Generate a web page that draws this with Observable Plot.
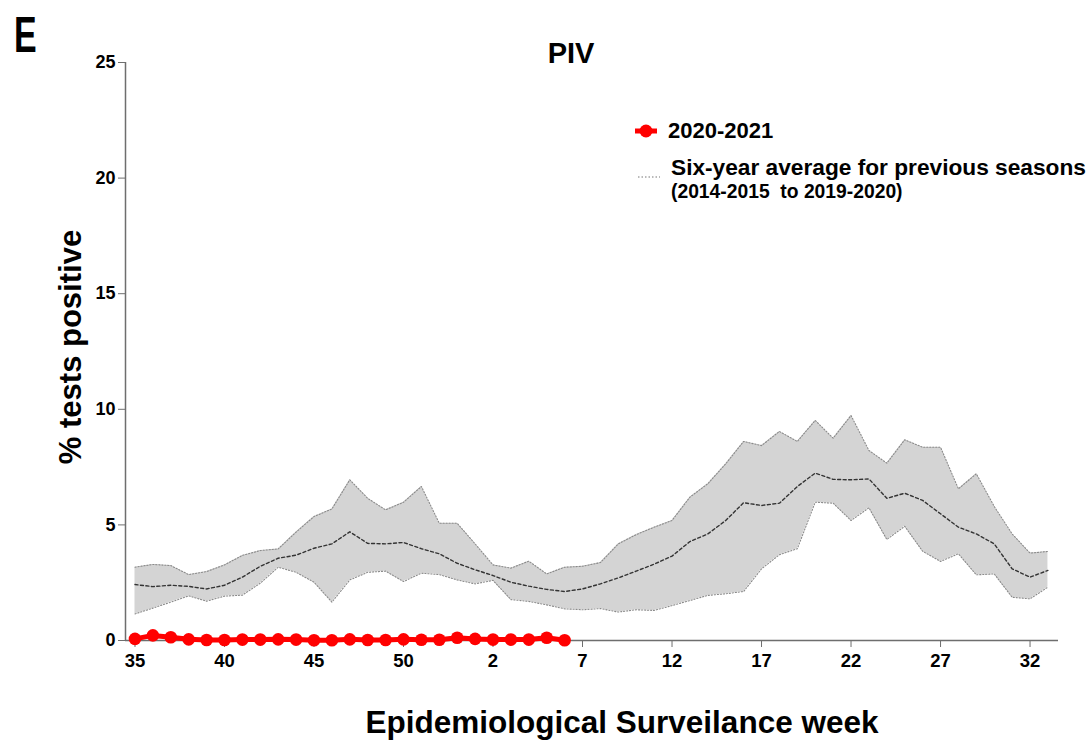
<!DOCTYPE html>
<html>
<head>
<meta charset="utf-8">
<script src="https://cdn.jsdelivr.net/npm/d3@7"></script>
<script src="https://cdn.jsdelivr.net/npm/@observablehq/plot@0.6"></script>
<style>
  html, body { margin: 0; padding: 0; background: #fff; }
  body { font-family: "Liberation Sans", Arial, sans-serif; }
  #wrap { position: relative; width: 1092px; height: 743px; overflow: hidden; }
  #wrap svg { position: absolute; left: 0; top: 0; }
  .lbl { position: absolute; font-weight: bold; color: #000; white-space: nowrap; line-height: 1; }
</style>
</head>
<body>
<div id="wrap">
  <div class="lbl" id="panel" style="left:14px; top:10px; font-size:50px; transform:scaleX(0.68); transform-origin:left top;">E</div>
  <div class="lbl" style="left:571px; top:39px; font-size:29px; transform:translateX(-50%);">PIV</div>
  <div class="lbl" style="left:70px; top:347px; font-size:31px; transform:translate(-50%,-50%) rotate(-90deg);">% tests positive</div>
  <div class="lbl" style="left:622px; top:723px; font-size:31.5px; transform:translate(-50%,-50%);">Epidemiological Surveilance week</div>
  <svg style="left:633px; top:121px; position:absolute;" width="26" height="20">
    <line x1="2" y1="10" x2="24" y2="10" stroke="red" stroke-width="5"/>
    <circle cx="13" cy="10" r="6.5" fill="red"/>
  </svg>
  <div class="lbl" style="left:668px; top:120px; font-size:22px;">2020-2021</div>
  <svg style="left:636px; top:172px; position:absolute;" width="26" height="10">
    <line x1="2" y1="5" x2="24" y2="5" stroke="#777" stroke-width="1.2" stroke-dasharray="1.5,2"/>
  </svg>
  <div class="lbl" style="left:671px; top:156px; font-size:22.7px;">Six-year average for previous seasons</div>
  <div class="lbl" style="left:671px; top:182px; font-size:19.3px;">(2014-2015&nbsp; to 2019-2020)</div>
</div>
<script>
// Season weeks (2020 had 53 weeks)
const weeks = [35,36,37,38,39,40,41,42,43,44,45,46,47,48,49,50,51,52,53,1,2,3,4,5,6,7,8,9,10,11,12,13,14,15,16,17,18,19,20,21,22,23,24,25,26,27,28,29,30,31,32,33];

// Six-year average (2014-2015 to 2019-2020) and its range
const avgMean = [2.42,2.33,2.39,2.34,2.23,2.39,2.74,3.21,3.56,3.69,3.99,4.18,4.70,4.20,4.18,4.24,3.97,3.75,3.34,3.06,2.81,2.52,2.35,2.21,2.12,2.23,2.45,2.71,3.00,3.30,3.65,4.28,4.61,5.19,5.96,5.84,5.94,6.66,7.24,6.97,6.95,6.99,6.15,6.37,6.06,5.48,4.90,4.61,4.18,3.10,2.74,3.03];
const avgUpper = [3.17,3.29,3.24,2.85,2.98,3.27,3.68,3.89,3.96,4.69,5.36,5.69,6.95,6.15,5.65,5.98,6.66,5.07,5.07,4.18,3.27,3.13,3.43,2.88,3.17,3.21,3.37,4.18,4.58,4.90,5.19,6.20,6.78,7.64,8.61,8.43,9.04,8.61,9.52,8.75,9.73,8.22,7.67,8.68,8.36,8.36,6.56,7.21,5.80,4.61,3.78,3.85];
const avgLower = [1.15,1.40,1.66,1.93,1.70,1.92,1.96,2.48,3.17,2.95,2.52,1.66,2.62,2.95,3.00,2.55,2.91,2.85,2.62,2.45,2.60,1.77,1.69,1.54,1.37,1.33,1.38,1.23,1.33,1.30,1.51,1.73,1.95,2.02,2.12,3.10,3.71,3.97,5.98,5.94,5.19,5.74,4.37,4.94,3.86,3.42,3.75,2.84,2.88,1.87,1.80,2.31];

// 2020-2021 season (weeks 35 to 6)
const season2021 = [0.07,0.22,0.14,0.05,0.02,0.02,0.04,0.04,0.05,0.04,0.01,0.01,0.05,0.02,0.02,0.05,0.03,0.03,0.12,0.07,0.04,0.04,0.04,0.12,0.01];

const yTicks = [0,5,10,15,20,25];
const xTickWeeks = [35,40,45,50,2,7,12,17,22,27,32];

const avgData = weeks.map((w, i) => ({i, week: w, mean: avgMean[i], upper: avgUpper[i], lower: avgLower[i]}));
const curData = season2021.map((v, i) => ({i, week: weeks[i], value: v}));
const xTickIdx = xTickWeeks.map(w => weeks.indexOf(w));

const axisColor = "#6e6e6e";

const chart = Plot.plot({
  width: 1092,
  height: 743,
  marginTop: 62,
  marginBottom: 103,
  marginLeft: 125,
  marginRight: 34,
  style: {fontFamily: "'Liberation Sans', Arial, sans-serif", background: "transparent", overflow: "visible"},
  x: {domain: [-0.53, 51.59]},
  y: {domain: [0, 25]},
  marks: [
    Plot.areaY(avgData, {x: "i", y1: "lower", y2: "upper", fill: "#d4d4d4"}),
    Plot.lineY(avgData, {x: "i", y: "upper", stroke: "#8a8a8a", strokeWidth: 1.1, strokeDasharray: "1.2,1.8"}),
    Plot.lineY(avgData, {x: "i", y: "lower", stroke: "#8a8a8a", strokeWidth: 1.1, strokeDasharray: "1.2,1.8"}),
    Plot.lineY(avgData, {x: "i", y: "mean", stroke: "#333", strokeWidth: 1.4, strokeDasharray: "3,2.5"}),
    Plot.ruleY([0], {stroke: axisColor, strokeWidth: 1.5}),
    Plot.ruleX([-0.53], {y1: 0, y2: 25, stroke: axisColor, strokeWidth: 1.5}),
    Plot.axisY({ticks: yTicks, tickSize: 7, tickPadding: 3, stroke: axisColor, fontSize: 18, fontWeight: "bold", fill: "#000", label: null}),
    Plot.axisX({ticks: xTickIdx, tickFormat: d => weeks[d], tickSize: 7, tickPadding: 6, stroke: axisColor, fontSize: 18.5, fontWeight: "bold", fill: "#000", label: null}),
    Plot.lineY(curData, {x: "i", y: "value", stroke: "red", strokeWidth: 5}),
    Plot.dot(curData, {x: "i", y: "value", r: 6.3, fill: "red", stroke: "none"})
  ]
});
document.getElementById("wrap").insertBefore(chart, document.getElementById("wrap").firstChild);
</script>
</body>
</html>
